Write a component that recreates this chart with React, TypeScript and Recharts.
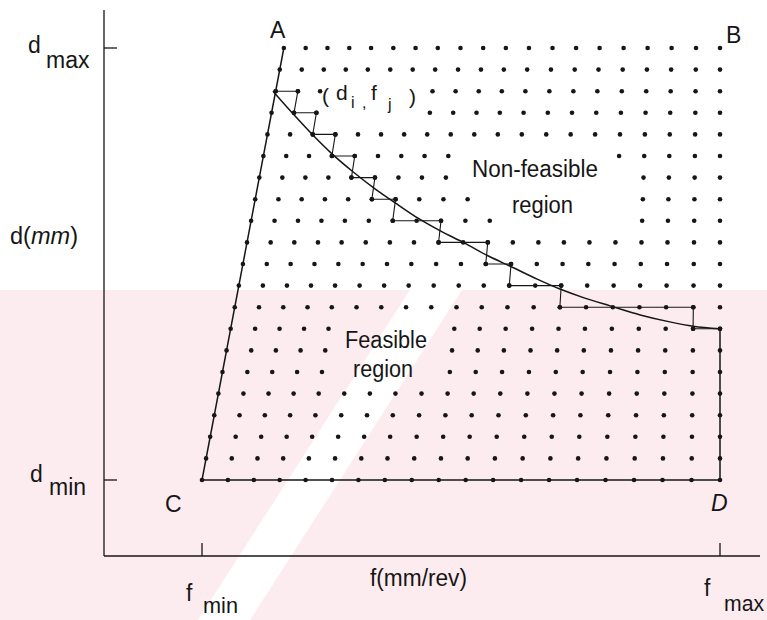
import React from 'react';
import { ComposedChart, Scatter, Line, XAxis, YAxis } from 'recharts';

const W = 767;
const H = 620;
const FONT = '"Liberation Sans", Arial, Helvetica, sans-serif';
const INK = '#161616';

// d scaled so that d_min = 0 and d_max = 1, f scaled so that f_min = 0 and f_max = 1
const rowD = [1, 0.95, 0.9, 0.85, 0.8, 0.75, 0.7, 0.65, 0.6, 0.55, 0.5, 0.45, 0.4, 0.35, 0.3, 0.25, 0.2, 0.15, 0.1, 0.05, 0];
// where each dot of a row sits between the line C-A and f_max
const colT = [0, 0.05, 0.1, 0.15, 0.2, 0.251, 0.302, 0.353, 0.405, 0.457, 0.509, 0.562, 0.616, 0.67, 0.724, 0.779, 0.834, 0.889, 0.945, 1];
// f of the line C-A at d_min and at d_max
const edgeCA = [0, 0.158];
// dots left out behind the labels: [row, first col, last col]
const gaps = [
  [2, 3, 6], [3, 3, 6],
  [5, 9, 14], [6, 9, 15], [7, 10, 15], [8, 11, 15],
  [13, 5, 8], [14, 5, 8], [15, 5, 8],
];
// the (d_i, f_j) staircase: [row, from col, to col]
const steps = [
  [2, 0, 1], [3, 1, 2], [4, 2, 3], [5, 3, 4], [6, 4, 5], [7, 5, 6],
  [8, 6, 8], [9, 8, 10], [10, 10, 11], [11, 11, 13], [12, 13, 18], [13, 18, 19],
];
// limit curve
const curveF = [0.137, 0.174, 0.212, 0.251, 0.292, 0.334, 0.376, 0.417, 0.461, 0.506, 0.552, 0.598, 0.647, 0.691, 0.739, 0.788, 0.846, 0.903, 0.948, 1.0];
const curveD = [0.9, 0.85, 0.801, 0.755, 0.713, 0.674, 0.639, 0.606, 0.576, 0.549, 0.519, 0.493, 0.465, 0.442, 0.421, 0.403, 0.382, 0.366, 0.356, 0.35];

const fTicks = [0, 1];
const dTicks = [0, 1];

const cell = (row: number, col: number) => {
  const d = rowD[row];
  const left = edgeCA[0] + (edgeCA[1] - edgeCA[0]) * d;
  return { f: left + colT[col] * (1 - left), d };
};

const isGap = (row: number, col: number) =>
  gaps.some(([r, a, b]) => r === row && col >= a && col <= b);

const gridDots: { f: number; d: number }[] = [];
rowD.forEach((_, r) => {
  colT.forEach((_, c) => {
    if (!isGap(r, c)) gridDots.push(cell(r, c));
  });
});

const stairs = steps.flatMap(([r, a, b]) => [cell(r, a), cell(r, b)]);
const lastRow = rowD.length - 1;
const lastCol = colT.length - 1;
const border = [cell(0, 0), cell(lastRow, 0), cell(lastRow, lastCol), cell(steps[steps.length - 1][0], lastCol)];
const curve = curveF.map((f, i) => ({ f, d: curveD[i] }));

const Dot = (p: any) => <circle cx={p.cx} cy={p.cy} r={2.3} fill={INK} />;
const NoDot = () => <g />;

const txt = { fontFamily: FONT, fill: INK, fontSize: 23 };

const XTick = (p: any) => {
  const { x, y, payload } = p;
  const isMin = payload.value === 0;
  return (
    <g>
      <line x1={x} y1={y} x2={x} y2={y - 13} stroke={INK} strokeWidth={1.3} />
      <text x={x - 16} y={y + (isMin ? 45 : 40)} {...txt}>f</text>
      <text
        x={x + (isMin ? 1 : 4)}
        y={y + (isMin ? 57 : 55)}
        {...txt}
        fontSize={22}
        textLength={isMin ? 35 : 40}
        lengthAdjust="spacingAndGlyphs"
      >
        {isMin ? 'min' : 'max'}
      </text>
    </g>
  );
};

const YTick = (p: any) => {
  const { x, y, payload } = p;
  const isMin = payload.value === 0;
  return (
    <g>
      <line x1={x} y1={y} x2={x + 13} y2={y} stroke={INK} strokeWidth={1.3} />
      <text x={isMin ? 30 : 28} y={y + (isMin ? 2 : 5)} {...txt}>d</text>
      <text x={isMin ? 49 : 46} y={y + (isMin ? 15 : 20)} {...txt}>{isMin ? 'min' : 'max'}</text>
    </g>
  );
};

export default function App() {
  return (
    <div style={{ position: 'absolute', left: 0, top: 0, width: W, height: H, background: '#fff' }}>
      {/* scan watermark */}
      <svg width={W} height={H} style={{ position: 'absolute', left: 0, top: 0 }}>
        <rect x={0} y={290} width={W} height={330} fill="#fdecef" />
        <polygon points="410,290 462,290 250,620 198,620" fill="#fff" />
      </svg>

      <div style={{ position: 'absolute', left: 0, top: 0 }}>
        <ComposedChart width={W} height={H} margin={{ top: 10, right: 7, bottom: 63, left: 103 }}>
          <XAxis
            type="number"
            dataKey="f"
            domain={[-0.18919, 1.07722]}
            allowDataOverflow
            ticks={fTicks}
            interval={0}
            tick={XTick}
            tickLine={false}
            tickSize={0}
            tickMargin={0}
            height={1}
            axisLine={{ stroke: INK, strokeWidth: 1.3 }}
          />
          <YAxis
            type="number"
            dataKey="d"
            domain={[-0.17593, 1.08796]}
            allowDataOverflow
            ticks={dTicks}
            interval={0}
            tick={YTick}
            tickLine={false}
            tickSize={0}
            tickMargin={0}
            width={1}
            axisLine={{ stroke: INK, strokeWidth: 1.3 }}
          />
          <Scatter data={gridDots} fill={INK} shape={Dot} isAnimationActive={false} />
          <Scatter
            data={border}
            fill={INK}
            line={{ stroke: INK, strokeWidth: 1.5 }}
            lineType="joint"
            shape={NoDot}
            isAnimationActive={false}
          />
          <Scatter
            data={stairs}
            fill={INK}
            line={{ stroke: INK, strokeWidth: 1.1 }}
            lineType="joint"
            shape={Dot}
            isAnimationActive={false}
          />
          <Line
            data={curve}
            dataKey="d"
            type="monotone"
            dot={false}
            stroke={INK}
            strokeWidth={1.5}
            isAnimationActive={false}
          />
        </ComposedChart>
      </div>

      {/* labels */}
      <svg width={W} height={H} style={{ position: 'absolute', left: 0, top: 0, pointerEvents: 'none' }}>
        <text x={270} y={38} {...txt}>A</text>
        <text x={726} y={43} {...txt}>B</text>
        <text x={165} y={512} {...txt}>C</text>
        <text x={711} y={511} {...txt} fontStyle="italic">D</text>

        <text x={322} y={103} {...txt} fontSize={21}>(</text>
        <text x={336} y={100} {...txt} fontSize={21}>d</text>
        <text x={351} y={108} {...txt} fontSize={16}>i</text>
        <text x={362} y={108} {...txt} fontSize={16}>,</text>
        <text x={371} y={100} {...txt} fontSize={21}>f</text>
        <text x={388} y={110} {...txt} fontSize={16}>j</text>
        <text x={409} y={104} {...txt} fontSize={21}>)</text>

        <text x={472} y={177} {...txt} textLength={126} lengthAdjust="spacingAndGlyphs">Non-feasible</text>
        <text x={512} y={213} {...txt} textLength={61} lengthAdjust="spacingAndGlyphs">region</text>
        <text x={345} y={348} {...txt} textLength={82} lengthAdjust="spacingAndGlyphs">Feasible</text>
        <text x={353} y={377} {...txt} textLength={60} lengthAdjust="spacingAndGlyphs">region</text>

        <text x={370} y={586} {...txt} textLength={97} lengthAdjust="spacingAndGlyphs">f(mm/rev)</text>
        <text x={10} y={244} {...txt} textLength={68} lengthAdjust="spacingAndGlyphs">
          d(<tspan fontStyle="italic">mm</tspan>)
        </text>
      </svg>
    </div>
  );
}
